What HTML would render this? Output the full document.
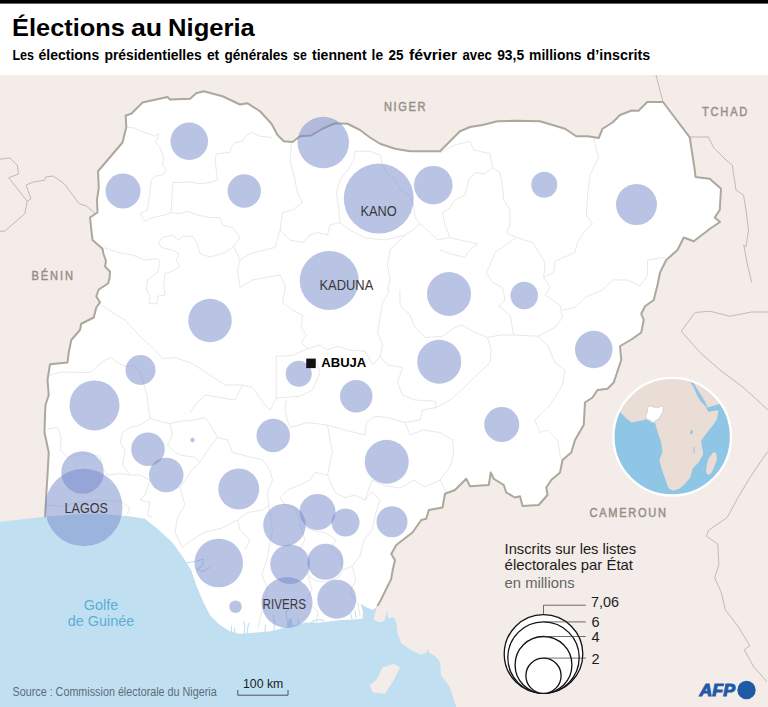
<!DOCTYPE html>
<html lang="fr">
<head>
<meta charset="utf-8">
<title>Élections au Nigeria</title>
<style>
html,body{margin:0;padding:0;background:#fff;}
body{width:768px;height:707px;overflow:hidden;position:relative;font-family:"Liberation Sans",sans-serif;}
svg{position:absolute;left:0;top:0;display:block;}
text{font-family:"Liberation Sans",sans-serif;}
.b{font-weight:bold;}
.country{fill:#958f86;stroke:#958f86;stroke-width:0.45px;}
.state{fill:#3a3a3a;}
.leg{fill:#1d1d1b;}
</style>
</head>
<body>
<svg width="768" height="707" viewBox="0 0 768 707">
<rect x="0" y="0" width="768" height="707" fill="#fff"/>
<rect x="0" y="0" width="768" height="3.6" fill="#000"/>
<defs><clipPath id="mapclip"><rect x="0" y="75" width="768" height="632"/></clipPath><clipPath id="globe"><circle cx="672.2" cy="436.7" r="58.8"/></clipPath></defs>
<g clip-path="url(#mapclip)">
<rect x="0" y="75" width="768" height="632" fill="#f3ece8"/>
<path d="M0,521.75 L45,516.75 L82.5,513.75 L100,513.75 L130,516.25 L145,518.75 L157.5,528.75 L172.5,542.5 L182.5,556.25 L191.25,570 L196.25,585 L202.5,600 L210,615 L220,625 L230,631.25 L240,633.75 L255,632.5 L270,631.25 L285,627.5 L305,622.5 L320,622.5 L340,620 L355.9,619.2 L362.2,618.4 L363,612.2 L360.6,603.6 L366.9,607.5 L373.1,609.8 L377.8,605.2 L374.7,613.75 L373.9,620 L379.4,622.3 L384.1,621.6 L385.6,616.9 L387,611 L388,616 L388.75,618.4 L393.4,616.9 L396.6,623.1 L397.3,632.5 L401.25,643.4 L410.6,649.7 L420,654.4 L426,653 L427.8,648.5 L429.5,653 L435,656 L440,662 L441,675 L450,687.5 L456.25,707 L0,707Z" fill="#c0e0f2"/>
<path d="M370,685 L376.25,680 L382.5,667.5 L393.75,663.75 L400,667.5 L393.75,680 L385,693.75 L372.5,692.5Z" fill="#f3ece8"/>
<path d="M656,75 L663,102" fill="none" stroke="#bcb6ab" stroke-width="0.9"/>
<path d="M689.75,137 L708.5,137 L713.5,147.5 L726,160 L732.25,165 L736,190 L743.5,195 L746,210 L748.5,230 L746,246.75 L743.75,245 L747.5,265 L751.75,282.5" fill="none" stroke="#bcb6ab" stroke-width="0.9"/>
<path d="M768,312 L751.75,312 L730,316.25 L710,311.25 L695,312.5 L681.25,331.25 L700,352.5 L720,370 L740,385 L751.75,395 L768,410" fill="none" stroke="#bcb6ab" stroke-width="0.9"/>
<path d="M0,159.2 L9.9,157.9 L17.3,165.3 L18.6,174 L8.7,177.7 L27.2,201.2 L24.8,213.6 L5,231 L0,231.4" fill="none" stroke="#bcb6ab" stroke-width="0.9"/>
<path d="M27.2,201.2 L30.9,198.8 L26,185.1 L33.4,181.9 L44.6,180.2 L45.8,177 L53.2,176 L64.4,183.9 L79.2,203.7 L86.6,206.2 L95.3,213.6" fill="none" stroke="#bcb6ab" stroke-width="0.9"/>
<path d="M768,451.3 L761.2,460.8 L749.9,477.8 L738.5,496.6 L727.2,517.4 L708.3,530.6 L706.4,536.3 L717.8,543.9 L718.9,564.6 L714.7,577.8 L721.5,593 L725.3,609.9 L738.5,626.9 L749.9,645.8 L744.2,649.6 L753.6,666.6 L766.9,681.7" fill="none" stroke="#bcb6ab" stroke-width="0.9"/>
<path d="M45,516.5 L46.25,495 L47.5,475 L48.75,452.5 L44.5,432.5 L45,415 L45.5,405 L48.75,395 L47.5,380 L50,364.25 L67.5,362.5 L68.75,352.5 L71.25,340 L80,330 L81.25,323.75 L93.75,317.5 L96.25,307.5 L100,302.5 L96.25,296.25 L98.75,289.5 L108,283.5 L109.6,278 L110,271.5 L105,266.5 L106,261 L103.5,254 L102.5,248.75 L92.5,240 L90,217.5 L97.5,212.5 L97,200 L98.75,187.5 L98,171.25 L122.5,142.5 L126.25,127.5 L125.75,115.5 L131.25,113.75 L142.5,102.5 L167.5,97 L170,99.5 L190,98.75 L196.25,93.25 L203.75,91.25 L222.5,96.25 L240,104.5 L247.5,103.25 L260,111.25 L271.5,123.75 L277.5,135 L283.75,141.25 L292.5,142 L300,136.25 L311.25,135.5 L322.5,128.75 L335,123.25 L347.5,123.75 L360,130 L370,137.5 L380,143.75 L395,148.75 L410,151.25 L425,151.25 L440,151.25 L450,141.25 L460,131.25 L470,127 L482.5,125 L497.5,121.25 L515,120.75 L540,121.25 L552.5,125 L565,128.75 L576.25,136.25 L587.5,136.25 L598.75,138 L602.5,128.75 L612.5,122.5 L620,115 L631.75,110.5 L638.5,110.8 L647.25,102 L663,102 L689.75,137.3 L694.75,170 L695.5,177 L709.75,178.75 L721,188.75 L719.75,210 L714.75,217.5 L720,222 L710,228.75 L693.75,241.25 L683.75,237.5 L677.5,250 L666.25,260 L660,272.5 L657.5,285 L653.75,300 L645,306.25 L641.25,313.75 L643.75,320 L641.25,332.5 L632.5,338.75 L620,346.25 L621.25,360 L616.25,375 L613.75,382.5 L607.5,388.75 L597.5,390 L592.5,397.5 L585,402.5 L583.75,425 L575,440 L571.25,452.5 L562.5,460 L560,472.5 L551.25,480 L546.25,487.5 L547.5,495 L538.75,505 L522.5,506 L520,496.25 L515,497.5 L506.25,492.5 L503.75,485 L493.75,478.75 L490.75,472.5 L488.75,485 L470,486.25 L466.25,478.75 L455,490 L445,493.75 L442.5,507.5 L428.75,510 L426.25,518.75 L421.25,520 L412.5,532.5 L396.25,545 L391.25,554 L395,560 L392.7,570 L391.1,579.4 L385.6,590.3 L380.2,601.3 L377.8,605.2 L373.1,609.8 L366.9,607.5 L360.6,603.6 L363,612.2 L362.2,618.4 L355.9,619.2 L340,620 L320,622.5 L305,622.5 L285,627.5 L270,631.25 L255,632.5 L240,633.75 L230,631.25 L220,625 L210,615 L202.5,600 L196.25,585 L191.25,570 L182.5,556.25 L172.5,542.5 L157.5,528.75 L145,518.75 L130,516.25 L100,513.75 L82.5,513.75Z" fill="#fff"/>
<g fill="none" stroke="#c0e0f2" stroke-width="1.1" stroke-linecap="round" stroke-linejoin="round">
<path d="M186.7,563 L197,561 L203.5,559 L202.5,565.5 L197,569.5 L203.5,571.5 L209.5,567.5"/>
<path d="M231.5,633 L231.5,626"/>
<path d="M234.6,633 L234.6,628"/>
<path d="M244,634 L245,626 L243.5,622"/>
<path d="M247,634 L248,626 L249.5,623"/>
<path d="M274,632 L274.5,622 L273,615"/>
<path d="M288.5,630 L287,620 L286,612 L288,610"/>
<path d="M299,627 L298,619"/>
<path d="M265,632 L265.5,625"/>
<path d="M310,624 L314,620.5 L320,619.5 L324,621"/>
<path d="M356,618 L355,611"/>
<path d="M352,619 L351,614"/>
</g>
<path d="M286,629.5 L288.5,620 L291.5,618 L293,628.5Z" fill="#c0e0f2"/>
<g fill="none" stroke="#d8d8d8" stroke-width="0.6" stroke-linejoin="round">
<path d="M126.25,127 L133.75,128 L145,132.5 L155,136.25 L158.75,133.75 L158,138.75 L155,141.25 L160,147.5 L163.75,157.5 L162.5,165 L166.25,170 L162.5,175 L155,176.25 L151.25,180 L150,190 L148.75,200 L147.5,210 L140,213.75 L145,221.25 L152.5,217.5 L165,215 L171.25,212.5"/>
<path d="M271.75,137.5 L260,136.25 L252.5,132.5 L246.25,135 L242.5,141.25 L235,142.5 L231.25,147.5 L230,152.5 L216.25,153.75 L215,160 L216.25,170 L217.5,180 L210,182.5 L200,183.75 L190,182 L180,182.5 L172.5,182.5 L172,195 L171.25,212.5"/>
<path d="M171.25,212.5 L180,213.75 L187.5,211.25 L197.5,215 L210,217.5 L220,217.5 L222.5,225 L232.5,227.5 L240,237.5 L233.75,246.25 L225,252.5 L210,257 L200,253.75 L197.5,243.75 L192.5,236.25 L182.5,236.25 L178.75,240 L172.5,235 L162.5,237.5 L158.75,242.5 L161.25,247.5 L172.5,250 L178.75,253.75 L176.25,261.25 L180,266.25 L172.5,271.25 L165,273.75 L163.75,285 L165,295 L157.5,296.25 L157,303.75 L148.75,303.75 L150,296.25 L146.25,290 L147.5,280 L157.5,272.5 L160,261.25 L156.25,258.75 L145,260 L132.5,255 L120,253 L103.75,247.5"/>
<path d="M233.75,246.25 L240,260 L237.5,270 L240,287.5 L252.5,280 L265,277.5 L280,275 L285,285 L285,290 L282.5,302.5 L292.5,310 L302.5,315 L301.25,327.5 L306.25,335 L301.25,342.5 L307.5,348.75 L320,345 L327.5,350 L337.5,346.25 L350,350 L365,351.25 L372.5,365 L380,356.25"/>
<path d="M240,260 L250,253.75 L265,250 L275,247.5 L280,230 L282.5,212.5 L292.5,210 L302.5,202.5 L297.5,192.5 L295,180 L290,160 L291.25,143.75"/>
<path d="M280,230 L290,240 L302.5,242.5 L310,235 L317.5,232.5 L327.5,235 L330,225 L340,222.5 L350,230 L365,238 L385,240 L405,235"/>
<path d="M355,151.25 L353.75,160 L347.5,170 L340,180 L336.25,192.5 L338.75,207.5 L340,222.5"/>
<path d="M355,151.25 L370,151.25 L380,155 L382.5,165 L387.5,173.75 L395,178.75 L400,190 L410,196.25 L413.75,205 L415,217.5 L420,223.75 L412.5,230 L405,235 L395,245 L390,250 L387.5,265 L390,280 L387.5,290 L390,290 L382.5,302.5 L380,317.5 L377.5,332.5 L382.5,345 L380,356.25 L387.5,365 L402.5,367.5 L397.5,382.5 L402.5,395 L415,400 L435,401.25 L436.25,407.5 L450,400 L461.75,390 L475,376.75 L490,362.5 L491.25,350 L487.5,337.5"/>
<path d="M420,223.75 L430,232.5 L437.5,240 L450,237.5 L445,225 L442.5,212.5 L450,207.5 L455,200 L465,195 L468.75,180 L475,172.5 L485,173.75 L492.5,167.5 L490,153.75 L473.75,150 L470,141.25 L455,145 L440,152.5"/>
<path d="M492.5,167.5 L500,172.5 L502.5,187.5 L503.75,200 L510,210 L510,225 L506.25,232.5 L516.25,237.5 L507.5,243.75 L495,252.5 L491.25,262.5 L486.25,272.5 L492.5,282.5 L502.5,287.5 L505,300 L498.75,306.25 L510,315 L513.75,335 L537.5,336.25 L555,327.5 L562.5,317.5 L560,305 L545,295 L550,287.5 L543.75,277.5 L545,262.5 L532.5,242.5 L516.25,237.5"/>
<path d="M593.75,138.75 L598.75,157.5 L590,175 L587.5,195 L586.25,215 L592.5,223.75 L583.75,232.5 L577.5,242.5 L575,252.5 L555,261.25 L553.75,272.5 L543.75,277.5"/>
<path d="M562.5,310 L575,307.5 L585,297.5 L602.5,290 L612.5,280 L627.5,280 L640,286.25 L647.5,275 L647.5,260 L665,257.5"/>
<path d="M450,237.5 L460,240 L477.5,243.75 L467.5,252.5 L465,257.5 L450,253.75 L440,250"/>
<path d="M400,290 L400,305 L410,315 L415,327.5 L425,337.5 L442.5,336.25 L455,327.5 L461.75,325 L475,332.5 L487.5,337.5 L500,335 L513.75,335"/>
<path d="M537.5,336.25 L547.5,345 L555,362.5 L565,370 L562.5,385 L550,405 L535,420 L540,432.5 L547.5,430 L557.5,440 L560,455 L563,462"/>
<path d="M276.25,356.25 L292.5,355.5 L307.5,348.75"/>
<path d="M276.25,356.25 L276.25,398 L300,396.25 L312.5,390 L320,372.5 L315,358"/>
<path d="M276.25,398 L270,410 L265,405 L252.5,387.5 L242.5,385 L235,400 L220,397.5 L205,395 L195,405 L190,413"/>
<path d="M286.25,400 L285,410 L287.5,420 L290,427.5 L307.5,422.5 L327.5,425 L345,430 L365,435 L366.25,422.5 L375,416.25 L387.5,417.5 L405,422.5 L420,420 L422.5,410 L436.25,407.5"/>
<path d="M327.5,425 L330,440 L332.5,452.5 L330,462.5 L327.5,475 L315,472.5 L310,480 L300,485 L287.5,490 L280,497.5 L285,505"/>
<path d="M405,422.5 L410,435 L422.5,430 L440,432.5 L452.5,440 L453.75,452.5 L450,466.75 L440,480 L447,493"/>
<path d="M101.25,305 L112.5,312.5 L125,320 L140,336.25 L155,350 L162.5,358.75 L175,357.5 L190,362.5 L202.5,370 L212.5,376.75 L225,385 L242.5,385"/>
<path d="M48,376 L60,372 L90,372.5 L105,360 L111.25,357.5 L117.5,362.5 L125,366.25 L134,366 L140,372 L147,395 L150,418.75"/>
<path d="M47.5,428.75 L57.5,427.5 L61.25,437.5 L60,450 L67.5,457.5 L82.5,453.75 L100,456.25 L102.5,467.5 L107.5,475 L120,473.75 L130,475 L140,475 L150,480 L145,495 L140,500 L150,502.5 L147.5,515 L152.5,517.5"/>
<path d="M130,475 L122.5,465 L125,450 L120,442.5 L122.5,432.5 L130,427.5 L140,425 L150,418.75 L170,423.75 L180,421.25 L195,420 L205,417.5 L211.25,426.25 L217.5,437.5 L207.5,450 L200,462.5 L195,457.5 L180,455 L175,452.5 L167.5,445 L172.5,435 L170,423.75"/>
<path d="M47.5,505 L65,506.25 L75,502.5 L100,500 L120,501.25 L130,507.5 L127.5,513.75"/>
<path d="M217.5,437.5 L227.5,440 L232.5,452.5 L242.5,455 L262.5,460 L270,470 L272.5,480 L267.5,492.5 L268.75,505 L262.5,510 L247.5,512.5 L237.5,520 L240,530 L250,540 L245,550"/>
<path d="M200,462.5 L192,470 L180,487.5 L185,505 L177.5,517.5 L175,532.5 L182.5,547.5 L191.75,540 L205,532 L222,528 L237.5,520"/>
<path d="M268.75,505 L272.5,530 L270,542.5 L267.5,556.75 L262,575 L268,590 L262,610 L258,628"/>
<path d="M285,505 L296,510 L300,525 L305,540 L300,548 L310,556 L308,575 L312,590 L306,600 L318,612 L316,624"/>
<path d="M327.5,475 L335,492.5 L345,497.5 L355,495 L365,500 L372,492 L380,500 L376,512 L372,530 L364,540 L360,556 L352,566 L356,580 L350,592 L358,604 L360,616"/>
<path d="M300,525 L312,530 L326,533 L336,540 L331,548 L340,556 L343,570 L352,566"/>
<path d="M308,575 L316,581 L326,582 L338,578 L343,570"/>
<path d="M365,500 L372,480 L386,486 L400,488 L414,480 L425,487 L440,480"/>
</g>
<path d="M45,516.5 L46.25,495 L47.5,475 L48.75,452.5 L44.5,432.5 L45,415 L45.5,405 L48.75,395 L47.5,380 L50,364.25 L67.5,362.5 L68.75,352.5 L71.25,340 L80,330 L81.25,323.75 L93.75,317.5 L96.25,307.5 L100,302.5 L96.25,296.25 L98.75,289.5 L108,283.5 L109.6,278 L110,271.5 L105,266.5 L106,261 L103.5,254 L102.5,248.75 L92.5,240 L90,217.5 L97.5,212.5 L97,200 L98.75,187.5 L98,171.25 L122.5,142.5 L126.25,127.5 L125.75,115.5 L131.25,113.75 L142.5,102.5 L167.5,97 L170,99.5 L190,98.75 L196.25,93.25 L203.75,91.25 L222.5,96.25 L240,104.5 L247.5,103.25 L260,111.25 L271.5,123.75 L277.5,135 L283.75,141.25 L292.5,142 L300,136.25 L311.25,135.5 L322.5,128.75 L335,123.25 L347.5,123.75 L360,130 L370,137.5 L380,143.75 L395,148.75 L410,151.25 L425,151.25 L440,151.25 L450,141.25 L460,131.25 L470,127 L482.5,125 L497.5,121.25 L515,120.75 L540,121.25 L552.5,125 L565,128.75 L576.25,136.25 L587.5,136.25 L598.75,138 L602.5,128.75 L612.5,122.5 L620,115 L631.75,110.5 L638.5,110.8 L647.25,102 L663,102 L689.75,137.3 L694.75,170 L695.5,177 L709.75,178.75 L721,188.75 L719.75,210 L714.75,217.5 L720,222 L710,228.75 L693.75,241.25 L683.75,237.5 L677.5,250 L666.25,260 L660,272.5 L657.5,285 L653.75,300 L645,306.25 L641.25,313.75 L643.75,320 L641.25,332.5 L632.5,338.75 L620,346.25 L621.25,360 L616.25,375 L613.75,382.5 L607.5,388.75 L597.5,390 L592.5,397.5 L585,402.5 L583.75,425 L575,440 L571.25,452.5 L562.5,460 L560,472.5 L551.25,480 L546.25,487.5 L547.5,495 L538.75,505 L522.5,506 L520,496.25 L515,497.5 L506.25,492.5 L503.75,485 L493.75,478.75 L490.75,472.5 L488.75,485 L470,486.25 L466.25,478.75 L455,490 L445,493.75 L442.5,507.5 L428.75,510 L426.25,518.75 L421.25,520 L412.5,532.5 L396.25,545 L391.25,554 L395,560 L392.7,570 L391.1,579.4 L385.6,590.3 L380.2,601.3 L377.8,605.2" fill="none" stroke="#aca89c" stroke-width="2" stroke-linejoin="round" stroke-linecap="round"/>
<g fill="rgba(115,135,201,0.5)">
<circle cx="189.25" cy="141.25" r="18.75"/>
<circle cx="123" cy="191" r="17.5"/>
<circle cx="244.25" cy="191" r="16.7"/>
<circle cx="323.25" cy="142.5" r="25.75"/>
<circle cx="378.8" cy="198.6" r="35"/>
<circle cx="433.3" cy="185.2" r="19.3"/>
<circle cx="544.25" cy="184.75" r="13"/>
<circle cx="636.5" cy="204.5" r="20.5"/>
<circle cx="210" cy="320.5" r="21.75"/>
<circle cx="329.25" cy="280.5" r="29.5"/>
<circle cx="449" cy="294" r="22"/>
<circle cx="524.25" cy="295.5" r="13.75"/>
<circle cx="593.75" cy="349.5" r="18.75"/>
<circle cx="439.25" cy="361.75" r="22"/>
<circle cx="298.75" cy="373.75" r="13"/>
<circle cx="356.25" cy="396.25" r="16.25"/>
<circle cx="501.75" cy="424.5" r="17.5"/>
<circle cx="140.5" cy="370" r="15"/>
<circle cx="94.5" cy="405.4" r="25"/>
<circle cx="273.25" cy="435.5" r="16.75"/>
<circle cx="192.5" cy="440" r="2.25"/>
<circle cx="148" cy="449.25" r="16.75"/>
<circle cx="166.25" cy="475" r="17.25"/>
<circle cx="82.5" cy="472.5" r="21.25"/>
<circle cx="83.75" cy="507.5" r="38.75"/>
<circle cx="238.75" cy="489" r="20.5"/>
<circle cx="386.75" cy="461.75" r="22"/>
<circle cx="284.5" cy="525" r="21.25"/>
<circle cx="317.5" cy="512" r="18"/>
<circle cx="345.5" cy="522.5" r="14"/>
<circle cx="392" cy="521.75" r="15.5"/>
<circle cx="218.75" cy="563" r="24.25"/>
<circle cx="290" cy="564.25" r="19.75"/>
<circle cx="325.5" cy="561.75" r="18"/>
<circle cx="235.5" cy="606.75" r="6.25"/>
<circle cx="287" cy="602.5" r="25.5"/>
<circle cx="336.75" cy="599.25" r="19.5"/>
</g>
<circle cx="672.2" cy="436.7" r="58.8" fill="#8fc6e6"/>
<g clip-path="url(#globe)">
<path d="M600,370 L600,411.5 L619.8,411.5 L625.7,418 L631.7,422.4 L637,421.6 L642.9,420.3 L646.4,419.3 L651.7,422.5 L655.2,423 L656.4,427.7 L658.1,433.6 L660.5,440.6 L661.7,446.1 L662.5,452.1 L659.4,460 L661.3,467.9 L664.9,477.8 L668.3,488.1 L672.8,490.7 L679.2,488.7 L685.1,483.7 L690,477.8 L693,467.9 L699,462 L703.3,454.1 L701.9,446 L701.2,440.6 L706.2,433.6 L712,426.6 L716.7,419.5 L718.5,411.3 L716.7,410.2 L708.5,411.9 L706.8,409 L706.2,407.2 L700.3,400.8 L696.8,394.9 L693.9,387.9 L690.4,382 L688,370Z" fill="#e9ddd5"/>
<path d="M693.3,382.6 L698,390.2 L702.1,396.7 L705.6,402.5 L707.3,407.4 L720,403.7 L740,396 L740,370 L690,370Z" fill="#e9ddd5"/>
<path d="M714.783,452.077 L716.762,455.046 L716.762,459.993 L713.794,467.909 L710.825,473.846 L707.857,474.836 L705.878,471.867 L706.867,463.951 L708.846,458.014 L712.804,453.066Z" fill="#e9ddd5"/>
<path d="M648.2,406.6 L650.5,406.1 L654,407.2 L658.1,407.6 L661.6,406.1 L663.4,407.8 L663,411.3 L661.1,414.8 L658.7,418.9 L655.8,420.1 L654,422.5 L651.7,421.9 L649.9,420.1 L646.4,418.9 L645.8,416 L647.6,411.3 L647.6,408.4Z" fill="#fff" stroke="#b5b0a6" stroke-width="0.4"/>
<ellipse cx="691.5" cy="432.1" rx="1.4" ry="2.2" fill="#8fc6e6" transform="rotate(15 691.5 432.1)"/>
<path d="M693.806,447.129 L694.201,453.066" stroke="#8fc6e6" stroke-width="1" fill="none"/>
</g>
<circle cx="672.2" cy="436.7" r="58.8" fill="none" stroke="#fff" stroke-width="2.4"/>
</g>
<text y="36.2" font-size="24.7" class="b" fill="#000" xml:space="preserve"><tspan x="12.1" textLength="112.8" lengthAdjust="spacingAndGlyphs">Élections</tspan> <tspan x="131" textLength="31.2" lengthAdjust="spacingAndGlyphs">au</tspan> <tspan x="168.1" textLength="86.7" lengthAdjust="spacingAndGlyphs">Nigeria</tspan></text>
<text y="60.4" font-size="14.4" class="b" fill="#000" xml:space="preserve"><tspan x="12.4" textLength="21.6" lengthAdjust="spacingAndGlyphs">Les</tspan> <tspan x="38.5" textLength="60.7" lengthAdjust="spacingAndGlyphs">élections</tspan> <tspan x="104.4" textLength="97.3" lengthAdjust="spacingAndGlyphs">présidentielles</tspan> <tspan x="206.9" textLength="12.3" lengthAdjust="spacingAndGlyphs">et</tspan> <tspan x="224.5" textLength="63.4" lengthAdjust="spacingAndGlyphs">générales</tspan> <tspan x="293.1" textLength="13.6" lengthAdjust="spacingAndGlyphs">se</tspan> <tspan x="312" textLength="54.6" lengthAdjust="spacingAndGlyphs">tiennent</tspan> <tspan x="371.6" textLength="11.5" lengthAdjust="spacingAndGlyphs">le</tspan> <tspan x="388.5" textLength="15" lengthAdjust="spacingAndGlyphs">25</tspan> <tspan x="408.9" textLength="48.3" lengthAdjust="spacingAndGlyphs">février</tspan> <tspan x="462.5" textLength="29.3" lengthAdjust="spacingAndGlyphs">avec</tspan> <tspan x="497.2" textLength="26.9" lengthAdjust="spacingAndGlyphs">93,5</tspan> <tspan x="529.1" textLength="52.5" lengthAdjust="spacingAndGlyphs">millions</tspan> <tspan x="586.6" textLength="63.7" lengthAdjust="spacingAndGlyphs">d’inscrits</tspan></text>
<text transform="translate(384,111.3) scale(0.86,1)" font-size="12.9" textLength="48.3721" lengthAdjust="spacing" class="country">NIGER</text>
<text transform="translate(702,116.3) scale(0.86,1)" font-size="12.9" textLength="52.7907" lengthAdjust="spacing" class="country">TCHAD</text>
<text transform="translate(31.5,280) scale(0.86,1)" font-size="12.9" textLength="48.1395" lengthAdjust="spacing" class="country">BÉNIN</text>
<text transform="translate(589.6,517.3) scale(0.88,1)" font-size="12.6" textLength="86.8182" lengthAdjust="spacing" class="country">CAMEROUN</text>
<text x="360.4" y="215.75" font-size="14" textLength="36.2" lengthAdjust="spacingAndGlyphs" class="state">KANO</text>
<text x="319.5" y="289.5" font-size="14" textLength="53.8" lengthAdjust="spacingAndGlyphs" class="state">KADUNA</text>
<text x="64.6" y="513" font-size="14" textLength="43.4" lengthAdjust="spacingAndGlyphs" class="state">LAGOS</text>
<text x="262.6" y="608.75" font-size="14" textLength="43.4" lengthAdjust="spacingAndGlyphs" class="state">RIVERS</text>
<rect x="306.25" y="358.6" width="9.5" height="9.5" fill="#111"/>
<text x="321.3" y="366.8" font-size="13.4" textLength="45" lengthAdjust="spacingAndGlyphs" class="b" fill="#000">ABUJA</text>
<text x="83.75" y="610" font-size="14.5" textLength="34.4" lengthAdjust="spacingAndGlyphs" fill="#5aafd3">Golfe</text>
<text x="67.7" y="625.8" font-size="14.5" textLength="66.5" lengthAdjust="spacingAndGlyphs" fill="#5aafd3">de Guinée</text>
<text x="12.5" y="696.25" font-size="12" textLength="204.2" lengthAdjust="spacingAndGlyphs" fill="#5e6b75">Source : Commission électorale du Nigeria</text>
<text x="243" y="687.5" font-size="12.5" textLength="40.3" lengthAdjust="spacingAndGlyphs" fill="#1d1d1b">100 km</text>
<path d="M237.8,690 L237.8,695.2 L288,695.2 L288,690" fill="none" stroke="#444" stroke-width="0.9"/>
<text x="504.6" y="554.4" font-size="14.2" textLength="131.4" lengthAdjust="spacingAndGlyphs" class="leg">Inscrits sur les listes</text>
<text x="504.6" y="570.3" font-size="14.2" textLength="128.4" lengthAdjust="spacingAndGlyphs" class="leg">électorales par État</text>
<text x="504.6" y="588" font-size="14.2" textLength="70" lengthAdjust="spacingAndGlyphs" fill="#666">en millions</text>
<g fill="#fff" stroke="#111" stroke-width="1.3">
<circle cx="543.5" cy="654" r="39.3"/>
<circle cx="543.5" cy="657.6" r="35.7"/>
<circle cx="543.5" cy="664.9" r="28.4"/>
<circle cx="543.5" cy="675.7" r="17.6"/>
</g>
<g fill="none" stroke="#333" stroke-width="0.7">
<path d="M543.5,614.7 L543.5,605.2 L585.8,605.2"/>
<path d="M543.5,621.9 L585.8,621.9"/>
<path d="M543.5,636.5 L585.8,636.5"/>
<path d="M543.5,658.1 L585.8,658.1"/>
</g>
<text x="591" y="607.3" font-size="14.5" textLength="28" lengthAdjust="spacingAndGlyphs" class="leg">7,06</text>
<text x="591.6" y="626.5" font-size="14.5" class="leg">6</text>
<text x="591.6" y="642.1" font-size="14.5" class="leg">4</text>
<text x="591.6" y="664" font-size="14.5" class="leg">2</text>
<text x="699.6" y="695.9" font-size="16.4" font-weight="bold" font-style="italic" fill="#1f5aa6" stroke="#1f5aa6" stroke-width="1" stroke-linejoin="miter" textLength="35.4" lengthAdjust="spacingAndGlyphs">AFP</text>
<circle cx="746.5" cy="690" r="9.2" fill="#1f5aa6"/>
</svg>
</body>
</html>
